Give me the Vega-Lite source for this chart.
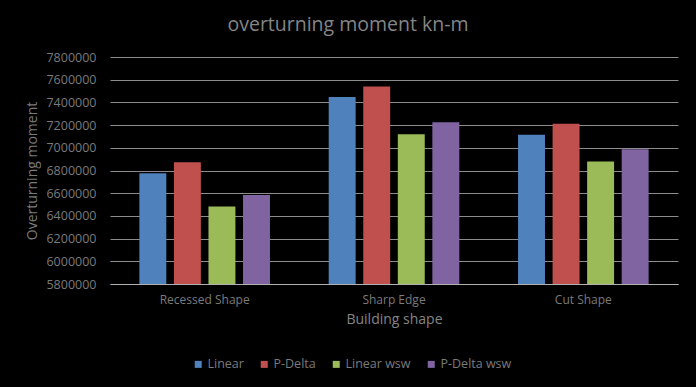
{
  "$schema": "https://vega.github.io/schema/vega-lite/v6.json",
  "width": 568,
  "height": 227,
  "autosize": "none",
  "padding": {"left": 110, "top": 57, "right": 18, "bottom": 103},
  "background": "#000000",
  "title": {
    "text": "overturning moment kn-m",
    "fontSize": 19.5,
    "font": "Open Sans",
    "fontWeight": "normal",
    "color": "#858585",
    "anchor": "middle",
    "dx": -46,
    "offset": 16
  },
  "data": {
    "values": [
      {"shape": "Recessed Shape", "series": "Linear", "value": 6775000},
      {"shape": "Recessed Shape", "series": "P-Delta", "value": 6873000},
      {"shape": "Recessed Shape", "series": "Linear wsw", "value": 6482000},
      {"shape": "Recessed Shape", "series": "P-Delta wsw", "value": 6585000},
      {"shape": "Sharp Edge", "series": "Linear", "value": 7447000},
      {"shape": "Sharp Edge", "series": "P-Delta", "value": 7539000},
      {"shape": "Sharp Edge", "series": "Linear wsw", "value": 7120000},
      {"shape": "Sharp Edge", "series": "P-Delta wsw", "value": 7226000},
      {"shape": "Cut Shape", "series": "Linear", "value": 7115000},
      {"shape": "Cut Shape", "series": "P-Delta", "value": 7212000},
      {"shape": "Cut Shape", "series": "Linear wsw", "value": 6879000},
      {"shape": "Cut Shape", "series": "P-Delta wsw", "value": 6988000}
    ]
  },
  "mark": {"type": "bar"},
  "encoding": {
    "x": {
      "field": "shape",
      "type": "nominal",
      "sort": ["Recessed Shape", "Sharp Edge", "Cut Shape"],
      "scale": {"paddingInner": 0, "paddingOuter": 0},
      "axis": {
        "title": "Building shape",
        "labelAngle": 0,
        "labelFont": "Open Sans",
        "labelFontSize": 12,
        "labelColor": "#7a7a7a",
        "labelPadding": 10,
        "ticks": false,
        "domainColor": "#b0b0b0",
        "domainWidth": 1,
        "titleFont": "Open Sans",
        "titleFontSize": 14,
        "titleFontWeight": "normal",
        "titleColor": "#858585",
        "titlePadding": 7
      }
    },
    "xOffset": {
      "field": "series",
      "type": "nominal",
      "sort": ["Linear", "P-Delta", "Linear wsw", "P-Delta wsw"],
      "scale": {"paddingInner": 0.22, "paddingOuter": 0.85}
    },
    "y": {
      "field": "value",
      "type": "quantitative",
      "scale": {"domain": [5800000, 7800000], "zero": false, "nice": false},
      "axis": {
        "title": "Overturning moment",
        "values": [5800000, 6000000, 6200000, 6400000, 6600000, 6800000, 7000000, 7200000, 7400000, 7600000, 7800000],
        "format": "d",
        "labelFont": "Open Sans",
        "labelFontSize": 12.5,
        "labelColor": "#7a7a7a",
        "labelPadding": 14,
        "ticks": false,
        "domain": false,
        "grid": true,
        "gridColor": "#8c8c8c",
        "gridWidth": 1,
        "titleFont": "Open Sans",
        "titleFontSize": 14,
        "titleFontWeight": "normal",
        "titleColor": "#7a7a7a",
        "titlePadding": 6
      }
    },
    "y2": {"datum": 5800000},
    "color": {
      "field": "series",
      "type": "nominal",
      "sort": ["Linear", "P-Delta", "Linear wsw", "P-Delta wsw"],
      "scale": {
        "domain": ["Linear", "P-Delta", "Linear wsw", "P-Delta wsw"],
        "range": ["#4F81BD", "#C0504D", "#9BBB59", "#8064A2"]
      },
      "legend": {
        "title": null,
        "orient": "none",
        "direction": "horizontal",
        "legendX": 82,
        "legendY": 301,
        "symbolType": "square",
        "symbolSize": 49,
        "symbolStrokeWidth": 0,
        "symbolOpacity": 1,
        "labelFont": "Open Sans",
        "labelFontSize": 12.5,
        "labelColor": "#7a7a7a",
        "columnPadding": 14,
        "labelOffset": 3
      }
    }
  },
  "config": {
    "view": {"stroke": null},
    "axis": {"gridOpacity": 1}
  }
}
